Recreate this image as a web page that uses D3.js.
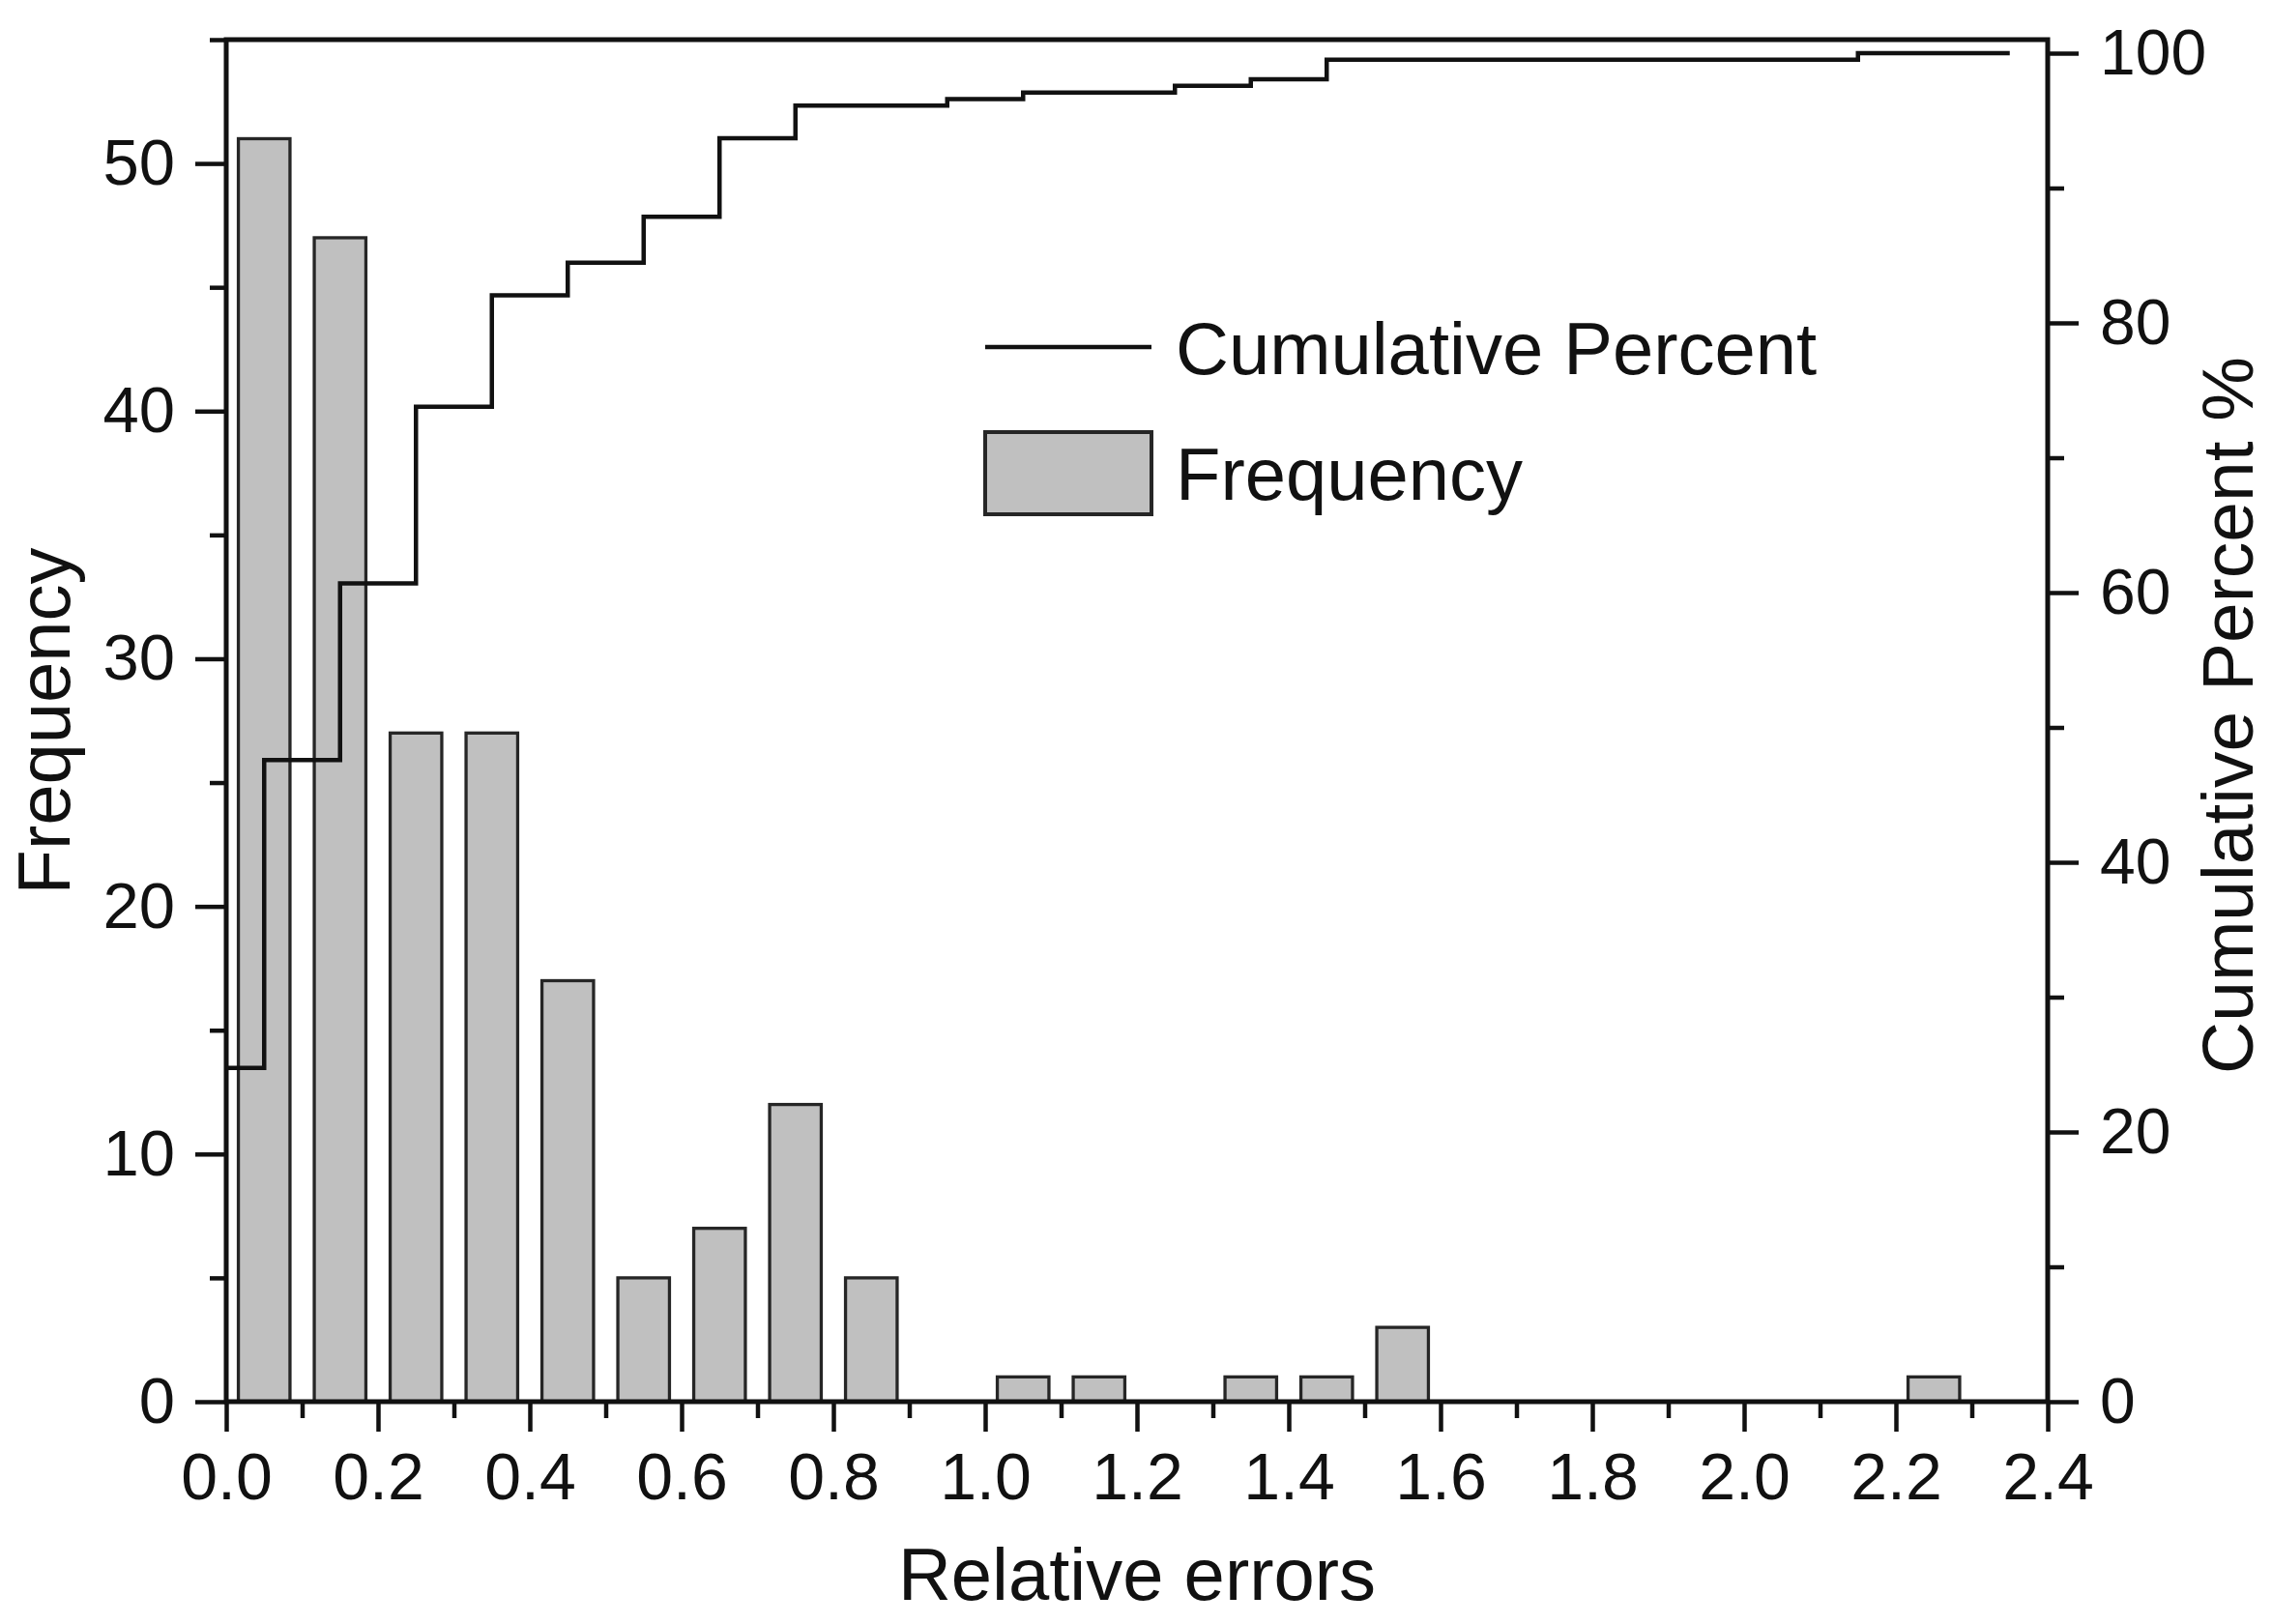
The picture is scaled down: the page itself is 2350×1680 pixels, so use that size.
<!DOCTYPE html>
<html>
<head>
<meta charset="utf-8">
<script src="https://cdn.jsdelivr.net/npm/d3@7"></script>
<style>
  body { margin: 0; background: #fff; }
  #chart text { fill: #111; }
</style>
</head>
<body>
<div id="chart"></div>
<script>
// histogram of relative errors, bins of width 0.1
const BIN_CENTERS = [0.05, 0.15, 0.25, 0.35, 0.45, 0.55, 0.65, 0.75, 0.85, 0.95, 1.05, 1.15,
                     1.25, 1.35, 1.45, 1.55, 1.65, 1.75, 1.85, 1.95, 2.05, 2.15, 2.25, 2.35];
const FREQUENCY = [51, 47, 27, 27, 17, 5, 7, 12, 5, 0, 1, 1,
                   0, 1, 1, 3, 0, 0, 0, 0, 0, 0, 1, 0];
const X_TICKS = [0, 0.2, 0.4, 0.6, 0.8, 1.0, 1.2, 1.4, 1.6, 1.8, 2.0, 2.2, 2.4];
const X_MINOR = [0.1, 0.3, 0.5, 0.7, 0.9, 1.1, 1.3, 1.5, 1.7, 1.9, 2.1, 2.3];
const FREQ_TICKS = [0, 10, 20, 30, 40, 50];
const FREQ_MINOR = [5, 15, 25, 35, 45, 55];
const PCT_TICKS = [0, 20, 40, 60, 80, 100];
const PCT_MINOR = [10, 30, 50, 70, 90];

const Histogram = function(){
  const W = 2350,
        H = 1680,
        L = 234, R = 2118, T = 41, B = 1450,
        FONT = '"Liberation Sans", Arial, sans-serif',
        BAR_W = 0.068;

  const plot = () => {
    const svg = d3.select('#chart')
      .append('svg')
      .attr('width', W)
      .attr('height', H)
      .style('font-family', FONT);

    const x = d3.scaleLinear().domain([0, 2.4]).range([L, R]);
    const yF = d3.scaleLinear().domain([0, 55]).range([B, T]);
    const yP = d3.scaleLinear().domain([0, 100]).range([B, 55]);

    // bars
    svg.append('g')
      .selectAll('rect')
      .data(BIN_CENTERS.map((c, i) => ({c, f: FREQUENCY[i]})).filter(d => d.f > 0))
      .enter()
      .append('rect')
      .attr('x', d => x(d.c - BAR_W / 2))
      .attr('width', d => x(d.c + BAR_W / 2) - x(d.c - BAR_W / 2))
      .attr('y', d => yF(d.f))
      .attr('height', d => yF(0) - yF(d.f))
      .attr('fill', '#c0c0c0')
      .attr('stroke', '#262626')
      .attr('stroke-width', 3.3);

    // cumulative percent, stepped
    const total = d3.sum(FREQUENCY);
    const cum = Array.from(d3.cumsum(FREQUENCY), v => v / total * 100);
    const pts = BIN_CENTERS.map((c, i) => [i === 0 ? x.domain()[0] : BIN_CENTERS[i - 1], cum[i]]);
    pts.push([BIN_CENTERS[BIN_CENTERS.length - 1], cum[cum.length - 1]]);

    svg.append('path')
      .datum(pts)
      .attr('fill', 'none')
      .attr('stroke', '#111')
      .attr('stroke-width', 4.5)
      .attr('d', d3.line().x(d => x(d[0])).y(d => yP(d[1])).curve(d3.curveStepAfter));

    // axes
    const styleAxis = (g, size) => {
      g.select('.domain').remove();
      g.selectAll('line').attr('stroke', '#111').attr('stroke-width', 4.5);
      g.selectAll('text').attr('font-size', size).attr('font-family', FONT).attr('fill', '#111');
    };

    svg.append('g')
      .attr('transform', `translate(0,${B})`)
      .call(d3.axisBottom(x).tickValues(X_TICKS).tickFormat(d3.format('.1f')).tickSize(31).tickPadding(22))
      .call(g => styleAxis(g, 68));
    svg.append('g')
      .attr('transform', `translate(0,${B})`)
      .call(d3.axisBottom(x).tickValues(X_MINOR).tickFormat('').tickSize(17))
      .call(g => styleAxis(g, 68));

    svg.append('g')
      .attr('transform', `translate(${L},0)`)
      .call(d3.axisLeft(yF).tickValues(FREQ_TICKS).tickSize(32).tickPadding(21))
      .call(g => styleAxis(g, 67));
    svg.append('g')
      .attr('transform', `translate(${L},0)`)
      .call(d3.axisLeft(yF).tickValues(FREQ_MINOR).tickFormat('').tickSize(17))
      .call(g => styleAxis(g, 67));

    svg.append('g')
      .attr('transform', `translate(${R},0)`)
      .call(d3.axisRight(yP).tickValues(PCT_TICKS).tickSize(32).tickPadding(22))
      .call(g => styleAxis(g, 66));
    svg.append('g')
      .attr('transform', `translate(${R},0)`)
      .call(d3.axisRight(yP).tickValues(PCT_MINOR).tickFormat('').tickSize(17))
      .call(g => styleAxis(g, 66));

    // frame
    svg.append('path')
      .attr('d', `M${L},${T}V${B}H${R}V${T}H${L}Z`)
      .attr('fill', 'none')
      .attr('stroke', '#111')
      .attr('stroke-width', 5);

    // titles
    svg.append('text')
      .attr('x', (L + R) / 2)
      .attr('y', 1655)
      .attr('text-anchor', 'middle')
      .attr('font-size', 76)
      .text('Relative errors');

    svg.append('text')
      .attr('transform', 'translate(72,746) rotate(-90)')
      .attr('text-anchor', 'middle')
      .attr('font-size', 76)
      .text('Frequency');

    svg.append('text')
      .attr('transform', 'translate(2330,740) rotate(-90)')
      .attr('text-anchor', 'middle')
      .attr('font-size', 75)
      .text('Cumulative Percent %');

    // legend
    const lg = svg.append('g').attr('transform', 'translate(1019,0)');
    lg.append('line')
      .attr('x1', 0).attr('x2', 172)
      .attr('y1', 359).attr('y2', 359)
      .attr('stroke', '#111')
      .attr('stroke-width', 4.5);
    lg.append('text')
      .attr('x', 197).attr('y', 387)
      .attr('font-size', 76)
      .text('Cumulative Percent');
    lg.append('rect')
      .attr('x', 0).attr('y', 447)
      .attr('width', 172).attr('height', 85)
      .attr('fill', '#c0c0c0')
      .attr('stroke', '#262626')
      .attr('stroke-width', 4);
    lg.append('text')
      .attr('x', 197).attr('y', 517)
      .attr('font-size', 76)
      .text('Frequency');
  };

  return {
    load: plot
  }
}();
document.addEventListener('DOMContentLoaded', Histogram.load);
</script>
</body>
</html>
